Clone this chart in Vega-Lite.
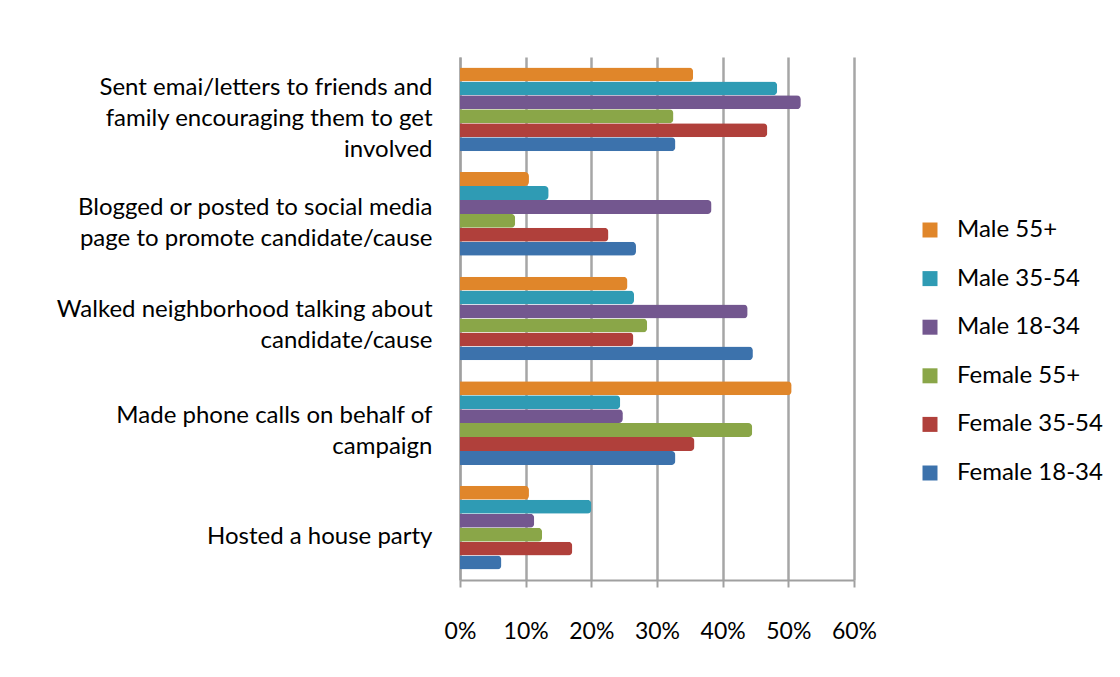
{
  "$schema": "https://vega.github.io/schema/vega-lite/v6.json",
  "autosize": {"type": "none"},
  "width": 394,
  "height": 523,
  "padding": {"left": 460, "top": 57, "right": 266, "bottom": 97},
  "background": "white",
  "config": {"view": {"stroke": null}, "font": "Lato"},
  "data": {
    "values": [
      {"activity": "Sent emai/letters to friends and family encouraging them to get involved", "group": "Male 55+", "value": 0.355},
      {"activity": "Sent emai/letters to friends and family encouraging them to get involved", "group": "Male 35-54", "value": 0.483},
      {"activity": "Sent emai/letters to friends and family encouraging them to get involved", "group": "Male 18-34", "value": 0.519},
      {"activity": "Sent emai/letters to friends and family encouraging them to get involved", "group": "Female 55+", "value": 0.325},
      {"activity": "Sent emai/letters to friends and family encouraging them to get involved", "group": "Female 35-54", "value": 0.468},
      {"activity": "Sent emai/letters to friends and family encouraging them to get involved", "group": "Female 18-34", "value": 0.328},
      {"activity": "Blogged or posted to social media page to promote candidate/cause", "group": "Male 55+", "value": 0.105},
      {"activity": "Blogged or posted to social media page to promote candidate/cause", "group": "Male 35-54", "value": 0.135},
      {"activity": "Blogged or posted to social media page to promote candidate/cause", "group": "Male 18-34", "value": 0.383},
      {"activity": "Blogged or posted to social media page to promote candidate/cause", "group": "Female 55+", "value": 0.084},
      {"activity": "Blogged or posted to social media page to promote candidate/cause", "group": "Female 35-54", "value": 0.226},
      {"activity": "Blogged or posted to social media page to promote candidate/cause", "group": "Female 18-34", "value": 0.268},
      {"activity": "Walked neighborhood talking about candidate/cause", "group": "Male 55+", "value": 0.255},
      {"activity": "Walked neighborhood talking about candidate/cause", "group": "Male 35-54", "value": 0.265},
      {"activity": "Walked neighborhood talking about candidate/cause", "group": "Male 18-34", "value": 0.438},
      {"activity": "Walked neighborhood talking about candidate/cause", "group": "Female 55+", "value": 0.285},
      {"activity": "Walked neighborhood talking about candidate/cause", "group": "Female 35-54", "value": 0.264},
      {"activity": "Walked neighborhood talking about candidate/cause", "group": "Female 18-34", "value": 0.446},
      {"activity": "Made phone calls on behalf of campaign", "group": "Male 55+", "value": 0.505},
      {"activity": "Made phone calls on behalf of campaign", "group": "Male 35-54", "value": 0.244},
      {"activity": "Made phone calls on behalf of campaign", "group": "Male 18-34", "value": 0.248},
      {"activity": "Made phone calls on behalf of campaign", "group": "Female 55+", "value": 0.445},
      {"activity": "Made phone calls on behalf of campaign", "group": "Female 35-54", "value": 0.357},
      {"activity": "Made phone calls on behalf of campaign", "group": "Female 18-34", "value": 0.328},
      {"activity": "Hosted a house party", "group": "Male 55+", "value": 0.105},
      {"activity": "Hosted a house party", "group": "Male 35-54", "value": 0.2},
      {"activity": "Hosted a house party", "group": "Male 18-34", "value": 0.113},
      {"activity": "Hosted a house party", "group": "Female 55+", "value": 0.125},
      {"activity": "Hosted a house party", "group": "Female 35-54", "value": 0.171},
      {"activity": "Hosted a house party", "group": "Female 18-34", "value": 0.063}
    ]
  },
  "mark": {"type": "bar", "cornerRadiusEnd": 4},
  "encoding": {
    "y": {
      "field": "activity",
      "type": "nominal",
      "sort": [
        "Sent emai/letters to friends and family encouraging them to get involved",
        "Blogged or posted to social media page to promote candidate/cause",
        "Walked neighborhood talking about candidate/cause",
        "Made phone calls on behalf of campaign",
        "Hosted a house party"
      ],
      "scale": {"paddingInner": 0, "paddingOuter": 0},
      "axis": {
        "title": null,
        "ticks": false,
        "domainColor": "#a0a0a0",
        "domainWidth": 2,
        "labelFontSize": 24,
        "labelColor": "#000000",
        "labelPadding": 28,
        "labelLimit": 500,
        "labelLineHeight": 31,
        "labelExpr": "datum.value == 'Sent emai/letters to friends and family encouraging them to get involved' ? ['Sent emai/letters to friends and', 'family encouraging them to get', 'involved'] : datum.value == 'Blogged or posted to social media page to promote candidate/cause' ? ['Blogged or posted to social media', 'page to promote candidate/cause'] : datum.value == 'Walked neighborhood talking about candidate/cause' ? ['Walked neighborhood talking about', 'candidate/cause'] : datum.value == 'Made phone calls on behalf of campaign' ? ['Made phone calls on behalf of', 'campaign'] : datum.value",
        "labelOffset": {"expr": "datum.value == 'Sent emai/letters to friends and family encouraging them to get involved' ? -21 : datum.value == 'Blogged or posted to social media page to promote candidate/cause' ? -6 : datum.value == 'Walked neighborhood talking about candidate/cause' ? -9 : datum.value == 'Made phone calls on behalf of campaign' ? -7 : 9"}
      }
    },
    "yOffset": {
      "field": "group",
      "sort": ["Male 55+", "Male 35-54", "Male 18-34", "Female 55+", "Female 35-54", "Female 18-34"],
      "scale": {"paddingInner": 0, "paddingOuter": 0.75}
    },
    "x": {
      "field": "value",
      "type": "quantitative",
      "scale": {"domain": [0, 0.6]},
      "axis": {
        "title": null,
        "format": ".0%",
        "values": [0, 0.1, 0.2, 0.3, 0.4, 0.5, 0.6],
        "labelFlush": false,
        "grid": true,
        "gridColor": "#a6a6a6",
        "gridWidth": 2.5,
        "domainColor": "#a0a0a0",
        "domainWidth": 2,
        "tickColor": "#a0a0a0",
        "tickWidth": 2,
        "tickSize": 7,
        "labelFontSize": 23,
        "labelColor": "#000000",
        "labelPadding": 33
      }
    },
    "color": {
      "field": "group",
      "type": "nominal",
      "scale": {
        "domain": ["Male 55+", "Male 35-54", "Male 18-34", "Female 55+", "Female 35-54", "Female 18-34"],
        "range": ["#E0862A", "#2F9BB4", "#73578F", "#8AA648", "#B0403B", "#3C72AC"]
      },
      "legend": {
        "title": null,
        "orient": "none",
        "legendX": 458,
        "legendY": 161,
        "symbolType": "square",
        "symbolSize": 225,
        "symbolStrokeWidth": 0,
        "labelFontSize": 24,
        "labelColor": "#000000",
        "labelOffset": 15,
        "rowPadding": 24.6
      }
    }
  }
}
